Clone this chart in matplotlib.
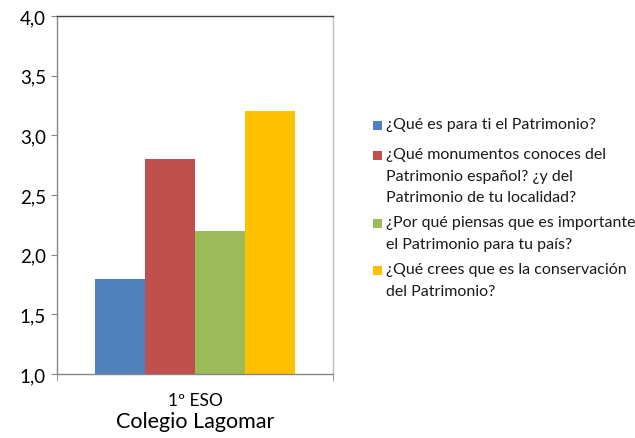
import numpy as np
import matplotlib.pyplot as plt
from matplotlib.patches import Rectangle

#-- values
categoria = '1º ESO'
eje_titulo = 'Colegio Lagomar'
preguntas = ['¿Qué es para ti el Patrimonio?',
             '¿Qué monumentos conoces del\nPatrimonio español? ¿y del\nPatrimonio de tu localidad?',
             '¿Por qué piensas que es importante\nel Patrimonio para tu país?',
             '¿Qué crees que es la conservación\ndel Patrimonio?']
valores = [1.8, 2.8, 2.2, 3.2]
colores = ['#4F81BD', '#C0504D', '#9BBB59', '#FFC000']
yticks = [1.0, 1.5, 2.0, 2.5, 3.0, 3.5, 4.0]

plt.rcParams['font.family'] = ['Lato', 'DejaVu Sans']

W, H = 635, 439
fig = plt.figure(figsize=(W / 100, H / 100), dpi=100)
ax = fig.add_axes([57 / W, 1 - 375 / H, 276 / W, 358 / H])

ancho = 50 / 276
inicio = 0.5 - 2 * ancho
for i, (v, c) in enumerate(zip(valores, colores)):
    ax.bar(inicio + i * ancho, v - 1.0, bottom=1.0, width=ancho, align='edge',
           color=c, linewidth=0)

ax.set_xlim(0, 1)
ax.set_ylim(1.0, 4.0)
ax.set_yticks(yticks)
ax.set_yticklabels([('%.1f' % t).replace('.', ',') for t in yticks], fontsize=13.5)
ax.tick_params(axis='y', direction='out', length=4, color='#868686', pad=4)
ax.set_xticks([0.5])
ax.set_xticklabels([categoria], fontsize=12.5)
ax.set_xticks([0, 1], minor=True)
ax.tick_params(axis='x', which='major', length=0, pad=13)
ax.tick_params(axis='x', which='minor', direction='out', length=5, color='#868686')
ax.set_xlabel(eje_titulo, fontsize=15.5, labelpad=2)

ax.spines['left'].set_color('#868686')
ax.spines['bottom'].set_color('#868686')
ax.spines['top'].set_color('#404040')
ax.spines['right'].set_color('#BFBFBF')
for s in ax.spines.values():
    s.set_linewidth(1.0)

#-- legend drawn by hand so the square sits on the first line of each entry
primeras = [126, 156, 224, 271]   # pixel centre of each entry's first line
for y0, c, p in zip(primeras, colores, preguntas):
    fig.patches.append(Rectangle((373 / W, 1 - (y0 + 4.5) / H), 9 / W, 9 / H,
                                 transform=fig.transFigure, color=c, lw=0))
    fig.text(386 / W, 1 - (y0 - 8) / H, p, fontsize=11.5, va='top', ha='left',
             linespacing=1.7, color='#1a1a1a')

fig.savefig('out.png', dpi=100)
